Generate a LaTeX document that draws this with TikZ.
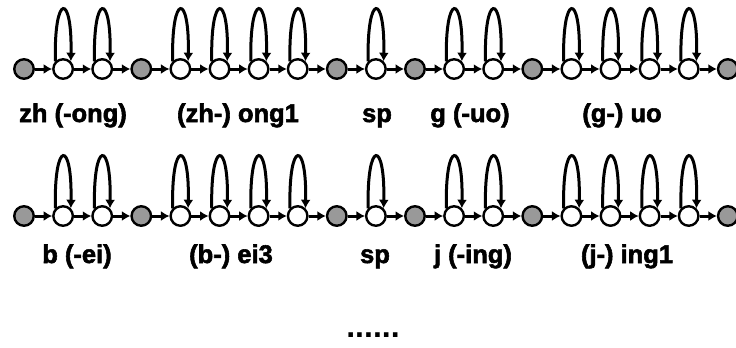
\documentclass[tikz,border=0pt]{standalone}
\usepackage{fontspec}
\setmainfont{Liberation Sans}
\usetikzlibrary{arrows.meta}
\definecolor{stategray}{RGB}{153,153,153}
\begin{document}
\begin{tikzpicture}[x=1bp,y=-1bp,
  st/.style={circle,draw,line width=2.4bp,minimum size=19.5bp,inner sep=0pt},
  emit/.style={st,fill=white},
  nonemit/.style={st,fill=stategray},
  tr/.style={line width=3bp,-{Latex[length=8.5bp,width=10bp]}},
  lbl/.style={font=\bfseries\fontsize{25.5bp}{28bp}\selectfont\addfontfeature{FakeBold=2.2},anchor=base,inner sep=0pt},
  dots/.style={font=\bfseries\fontsize{32bp}{36bp}\selectfont,anchor=base,inner sep=0pt},
]
\useasboundingbox (0,0) rectangle (736,347);
\foreach \r/\yy in {a/69,b/216}{
  \foreach \i/\t in {0/nonemit,1/emit,2/emit,3/nonemit,4/emit,5/emit,6/emit,7/emit,8/nonemit,9/emit,10/nonemit,11/emit,12/emit,13/nonemit,14/emit,15/emit,16/emit,17/emit,18/nonemit}{
    \node[\t] (\r\i) at ({24+39.1*\i},\yy) {};
  }
  \foreach \i [evaluate=\i as \j using int(\i+1)] in {0,...,17}{
    \draw[tr] (\r\i) -- (\r\j);
  }
  \foreach \i in {1,2,4,5,6,7,9,11,12,14,15,16,17}{
    \draw[tr] (\r\i.135) .. controls +(-1.5,-69) and +(1.5,-69) .. (\r\i.45);
  }
}
\node[lbl] (la1) at (73,122) {zh (-ong)};
\node[lbl] (la2) at (238,122) {(zh-) ong1};
\node[lbl] (la3) at (377,122) {sp};
\node[lbl] (la4) at (470,122) {g (-uo)};
\node[lbl] (la5) at (622,122) {(g-) uo};
\node[lbl] (lb1) at (77,263) {b (-ei)};
\node[lbl] (lb2) at (231,263) {(b-) ei3};
\node[lbl] (lb3) at (375,263) {sp};
\node[lbl] (lb4) at (473,263) {j (-ing)};
\node[lbl] (lb5) at (627,263) {(j-) ing1};
\node[dots] (more) at (373,337.5) {......};
\end{tikzpicture}
\end{document}
